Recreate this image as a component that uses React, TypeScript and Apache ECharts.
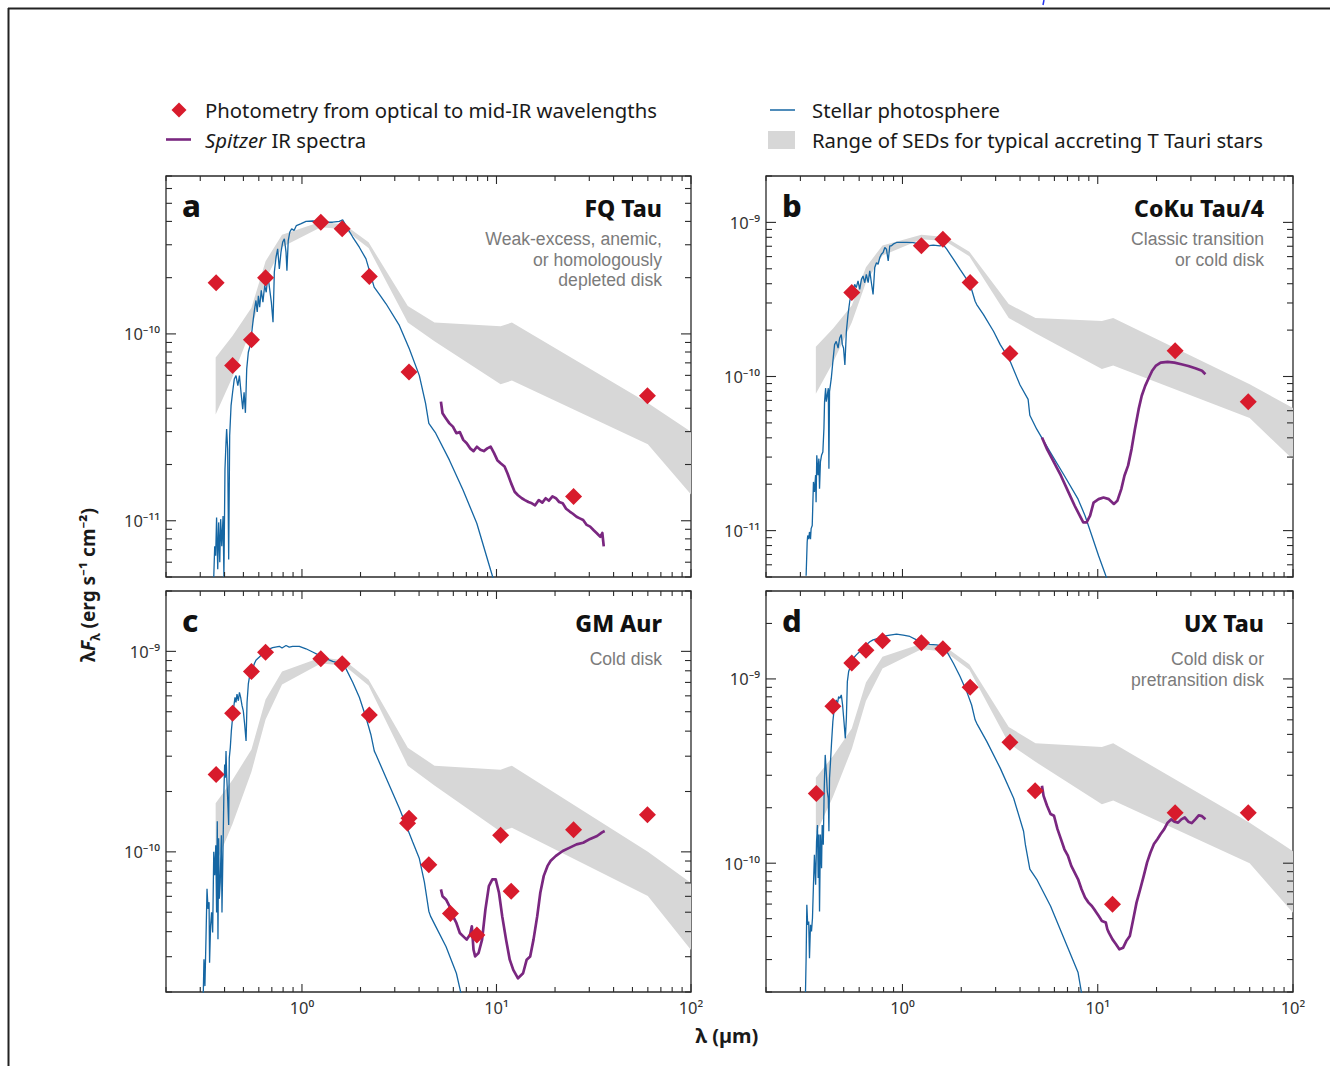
import React, { useEffect, useRef } from "react";
import * as echarts from "echarts";

// ---------------- DATA ----------------
const X_MIN = 0.2;
const X_MAX = 100;

// Range of SEDs for typical accreting T Tauri stars (band vertices, µm)
const BAND_X = [0.36, 0.44, 0.55, 0.65, 0.79, 1.25, 1.65, 2.2, 3.5, 4.8, 10.5, 12, 60, 100];
const BAND_UP_A = [7.47e-11, 9.77e-11, 1.38e-10, 2.45e-10, 3.39e-10, 3.98e-10, 3.85e-10, 3.09e-10, 1.41e-10, 1.15e-10, 1.1e-10, 1.15e-10, 4.27e-11, 2.99e-11];
const BAND_LO_A = [3.7e-11, 5.89e-11, 1.07e-10, 1.95e-10, 2.92e-10, 3.72e-10, 3.63e-10, 2.88e-10, 1.15e-10, 9.13e-11, 5.38e-11, 5.63e-11, 2.57e-11, 1.38e-11];
const BAND_UP_B = [1.56e-10, 2.04e-10, 2.89e-10, 5.12e-10, 7.08e-10, 8.32e-10, 8.04e-10, 6.45e-10, 2.95e-10, 2.4e-10, 2.29e-10, 2.4e-10, 8.91e-11, 6.24e-11];
const BAND_LO_B = [7.73e-11, 1.23e-10, 2.24e-10, 4.07e-10, 6.1e-10, 7.76e-10, 7.58e-10, 6.03e-10, 2.4e-10, 1.91e-10, 1.12e-10, 1.18e-10, 5.37e-11, 2.89e-11];
const BAND_UP_C = [1.75e-10, 2.29e-10, 3.24e-10, 5.75e-10, 7.94e-10, 9.33e-10, 9.02e-10, 7.24e-10, 3.31e-10, 2.69e-10, 2.57e-10, 2.69e-10, 1.0e-10, 7.0e-11];
const BAND_LO_C = [8.67e-11, 1.38e-10, 2.51e-10, 4.57e-10, 6.84e-10, 8.71e-10, 8.51e-10, 6.76e-10, 2.69e-10, 2.14e-10, 1.26e-10, 1.32e-10, 6.03e-11, 3.24e-11];
const BAND_UP_D = [2.91e-10, 3.8e-10, 5.38e-10, 9.55e-10, 1.32e-9, 1.55e-9, 1.5e-9, 1.2e-9, 5.49e-10, 4.47e-10, 4.27e-10, 4.47e-10, 1.66e-10, 1.16e-10];
const BAND_LO_D = [1.44e-10, 2.29e-10, 4.17e-10, 7.59e-10, 1.14e-9, 1.45e-9, 1.41e-9, 1.12e-9, 4.47e-10, 3.55e-10, 2.09e-10, 2.19e-10, 1.0e-10, 5.38e-11];

// Photometry (red diamonds) [µm, λFλ]
const DOTS_A = [[0.362, 1.88e-10], [0.44, 6.77e-11], [0.55, 9.3e-11], [0.65, 2.0e-10], [1.25, 3.96e-10], [1.61, 3.65e-10], [2.22, 2.03e-10], [3.55, 6.25e-11], [24.9, 1.35e-11], [59.7, 4.66e-11]];
const DOTS_B = [[0.55, 3.51e-10], [1.25, 7.05e-10], [1.61, 7.78e-10], [2.22, 4.07e-10], [3.55, 1.41e-10], [24.9, 1.47e-10], [59, 6.85e-11]];
const DOTS_C = [[0.362, 2.43e-10], [0.44, 4.91e-10], [0.55, 7.94e-10], [0.65, 9.89e-10], [1.25, 9.19e-10], [1.61, 8.67e-10], [2.22, 4.81e-10], [3.55, 1.47e-10], [3.49, 1.39e-10], [4.49, 8.63e-11], [5.8, 4.92e-11], [7.93, 3.85e-11], [10.5, 1.21e-10], [11.9, 6.37e-11], [24.9, 1.29e-10], [59.7, 1.53e-10]];
const DOTS_D = [[0.362, 2.39e-10], [0.44, 7.1e-10], [0.55, 1.22e-9], [0.65, 1.43e-9], [0.79, 1.61e-9], [1.25, 1.57e-9], [1.61, 1.46e-9], [2.22, 9.01e-10], [3.55, 4.53e-10], [4.78, 2.47e-10], [11.9, 5.98e-11], [24.9, 1.88e-10], [59, 1.88e-10]];

// Stellar photosphere (blue)
const BLUE_A = [[0.352, 5.0e-12], [0.356, 7.3e-12], [0.36, 6.5e-12], [0.364, 1.04e-11], [0.369, 5.5e-12], [0.373, 9.8e-12], [0.378, 6.0e-12], [0.382, 1.02e-11], [0.387, 7.3e-12], [0.393, 1.06e-11], [0.397, 5.0e-12], [0.402, 1.89e-11], [0.407, 2.63e-11], [0.41, 3.1e-11], [0.415, 2.42e-11], [0.42, 6.2e-12], [0.425, 2.85e-11], [0.432, 4.13e-11], [0.44, 4.87e-11], [0.449, 5.74e-11], [0.458, 5.98e-11], [0.468, 5.28e-11], [0.477, 5.98e-11], [0.486, 4.87e-11], [0.496, 3.96e-11], [0.504, 4.87e-11], [0.512, 3.78e-11], [0.52, 6.5e-11], [0.53, 7.98e-11], [0.541, 8.66e-11], [0.552, 1.02e-10], [0.562, 1.2e-10], [0.571, 1.36e-10], [0.58, 1.51e-10], [0.589, 1.31e-10], [0.597, 1.6e-10], [0.606, 1.39e-10], [0.618, 1.71e-10], [0.63, 1.48e-10], [0.643, 1.82e-10], [0.655, 1.67e-10], [0.668, 2.05e-10], [0.682, 1.74e-10], [0.696, 1.48e-10], [0.71, 1.155e-10], [0.721, 2.14e-10], [0.736, 2.58e-10], [0.75, 2.85e-10], [0.765, 2.23e-10], [0.78, 2.74e-10], [0.796, 3.1e-10], [0.812, 3.23e-10], [0.828, 2.74e-10], [0.837, 2.18e-10], [0.85, 3.16e-10], [0.866, 3.51e-10], [0.885, 3.65e-10], [0.911, 3.58e-10], [0.936, 3.8e-10], [0.984, 3.88e-10], [1.049, 4.0e-10], [1.135, 4.02e-10], [1.228, 4.0e-10], [1.329, 3.96e-10], [1.438, 3.96e-10], [1.556, 4.0e-10], [1.619, 4.08e-10], [1.72, 3.65e-10], [1.823, 3.3e-10], [1.972, 2.91e-10], [2.134, 2.52e-10], [2.26, 2.05e-10], [2.35, 1.78e-10], [2.49, 1.64e-10], [2.705, 1.45e-10], [3.167, 1.11e-10], [3.563, 8.32e-11], [4.013, 5.98e-11], [4.32, 4.25e-11], [4.49, 3.32e-11], [4.87, 2.94e-11], [5.73, 2.11e-11], [6.73, 1.46e-11], [7.92, 9.7e-12], [9.33, 5.45e-12], [9.8, 4.6e-12]];
const BLUE_B = [[0.321, 5.1e-12], [0.325, 8.4e-12], [0.327, 9.3e-12], [0.331, 8.8e-12], [0.334, 9.8e-12], [0.338, 8.8e-12], [0.3405, 1.03e-11], [0.345, 1.08e-11], [0.35, 2.07e-11], [0.354, 1.78e-11], [0.359, 2.29e-11], [0.361, 1.53e-11], [0.364, 3.08e-11], [0.369, 2.29e-11], [0.373, 2.93e-11], [0.376, 1.87e-11], [0.38, 2.79e-11], [0.385, 3.08e-11], [0.391, 3.24e-11], [0.396, 4.6e-11], [0.399, 6.87e-11], [0.404, 8.4e-11], [0.407, 6.87e-11], [0.412, 7.59e-11], [0.417, 8.4e-11], [0.42, 2.52e-11], [0.423, 7.98e-11], [0.432, 9.75e-11], [0.44, 1.25e-10], [0.449, 1.61e-10], [0.458, 1.69e-10], [0.468, 1.53e-10], [0.477, 1.78e-10], [0.486, 1.87e-10], [0.492, 1.61e-10], [0.499, 1.53e-10], [0.507, 1.19e-10], [0.516, 1.96e-10], [0.526, 2.52e-10], [0.537, 3.08e-10], [0.547, 3.41e-10], [0.558, 3.58e-10], [0.569, 3.96e-10], [0.58, 3.77e-10], [0.592, 4.17e-10], [0.604, 3.67e-10], [0.616, 4.27e-10], [0.628, 4.49e-10], [0.641, 4.06e-10], [0.653, 4.6e-10], [0.667, 4.06e-10], [0.68, 4.84e-10], [0.693, 4.06e-10], [0.707, 3.41e-10], [0.721, 5.09e-10], [0.736, 5.48e-10], [0.75, 5.35e-10], [0.765, 5.91e-10], [0.78, 6.21e-10], [0.796, 6.37e-10], [0.812, 6.87e-10], [0.828, 6.7e-10], [0.845, 5.62e-10], [0.861, 7.05e-10], [0.878, 7.05e-10], [0.896, 7.22e-10], [0.932, 7.41e-10], [0.969, 7.41e-10], [1.049, 7.41e-10], [1.135, 7.38e-10], [1.228, 7.22e-10], [1.329, 7.05e-10], [1.438, 7.11e-10], [1.556, 7.05e-10], [1.619, 7.14e-10], [1.685, 6.7e-10], [1.823, 5.77e-10], [1.972, 4.96e-10], [2.134, 4.27e-10], [2.26, 3.67e-10], [2.355, 3.08e-10], [2.4, 2.93e-10], [2.6, 2.52e-10], [2.93, 1.96e-10], [3.167, 1.61e-10], [3.52, 1.3e-10], [4.0, 8.8e-11], [4.4, 7.1e-11], [4.49, 5.6e-11], [4.87, 4.55e-11], [5.73, 3.21e-11], [6.75, 2.27e-11], [7.93, 1.6e-11], [8.61, 1.25e-11], [9.33, 9.25e-12], [10.1, 6.87e-12], [11.0, 5.09e-12], [11.3, 4.7e-12]];
const BLUE_C = [[0.311, 1.98e-11], [0.3135, 2.91e-11], [0.317, 2.14e-11], [0.321, 3.67e-11], [0.325, 6.55e-11], [0.329, 5.19e-11], [0.333, 5.61e-11], [0.335, 2.8e-11], [0.339, 4.28e-11], [0.343, 4.99e-11], [0.3475, 3.96e-11], [0.352, 1.0e-10], [0.356, 7.64e-11], [0.3605, 1.08e-10], [0.364, 4.99e-11], [0.367, 1.42e-10], [0.37, 3.67e-11], [0.373, 1.17e-10], [0.376, 5.83e-11], [0.38, 7.06e-11], [0.385, 1.21e-10], [0.388, 4.99e-11], [0.393, 1.08e-10], [0.397, 2.0e-10], [0.4005, 2.73e-10], [0.4036, 2.34e-10], [0.407, 3.18e-10], [0.41, 2.43e-10], [0.415, 1.85e-10], [0.42, 1.36e-10], [0.423, 2.94e-10], [0.428, 3.3e-10], [0.4335, 4.01e-10], [0.44, 4.68e-10], [0.4455, 5.25e-10], [0.4527, 5.9e-10], [0.458, 5.56e-10], [0.4634, 6.12e-10], [0.471, 5.67e-10], [0.477, 6.25e-10], [0.484, 5.9e-10], [0.492, 5.36e-10], [0.4994, 5.05e-10], [0.5074, 4.33e-10], [0.516, 3.57e-10], [0.522, 5.56e-10], [0.53, 6.88e-10], [0.537, 7.43e-10], [0.547, 7.87e-10], [0.558, 8.18e-10], [0.569, 8.67e-10], [0.58, 9.02e-10], [0.604, 9.37e-10], [0.628, 9.73e-10], [0.653, 1.012e-9], [0.707, 1.043e-9], [0.765, 1.06e-9], [0.79, 1.04e-9], [0.828, 1.07e-9], [0.86, 1.05e-9], [0.896, 1.06e-9], [0.969, 1.06e-9], [1.049, 1.03e-9], [1.135, 9.93e-10], [1.228, 9.55e-10], [1.329, 9.19e-10], [1.438, 8.91e-10], [1.556, 8.74e-10], [1.619, 8.91e-10], [1.685, 8.18e-10], [1.823, 7.02e-10], [1.972, 5.9e-10], [2.134, 4.68e-10], [2.26, 3.85e-10], [2.355, 3.18e-10], [2.4, 3.06e-10], [2.705, 2.34e-10], [3.167, 1.65e-10], [3.71, 1.12e-10], [4.013, 9.26e-11], [4.26, 7.06e-11], [4.49, 5.06e-11], [4.58, 4.78e-11], [4.87, 4.25e-11], [5.5, 3.37e-11], [6.22, 2.48e-11], [6.6, 1.93e-11]];
const BLUE_D = [[0.3186, 2.0e-11], [0.321, 3.05e-11], [0.3237, 5.94e-11], [0.327, 4.63e-11], [0.331, 4.83e-11], [0.334, 3.05e-11], [0.338, 4.63e-11], [0.342, 4.26e-11], [0.346, 5.04e-11], [0.35, 7.63e-11], [0.354, 1.11e-10], [0.359, 7.63e-11], [0.363, 1.31e-10], [0.367, 1.61e-10], [0.37, 8.3e-11], [0.373, 1.43e-10], [0.376, 5.47e-11], [0.38, 1.43e-10], [0.385, 9.4e-11], [0.388, 1.61e-10], [0.393, 1.26e-10], [0.397, 2.45e-10], [0.402, 3.87e-10], [0.407, 3.14e-10], [0.412, 2.45e-10], [0.417, 2.25e-10], [0.42, 1.49e-10], [0.423, 2.89e-10], [0.428, 3.56e-10], [0.4335, 4.57e-10], [0.44, 5.87e-10], [0.4455, 6.65e-10], [0.4527, 6.93e-10], [0.458, 7.69e-10], [0.4634, 7.22e-10], [0.471, 8.02e-10], [0.478, 7.85e-10], [0.486, 8.19e-10], [0.4935, 7.22e-10], [0.5016, 5.87e-10], [0.5096, 4.76e-10], [0.516, 6.12e-10], [0.522, 9.67e-10], [0.53, 1.096e-9], [0.537, 1.14e-9], [0.547, 1.216e-9], [0.558, 1.268e-9], [0.569, 1.32e-9], [0.58, 1.35e-9], [0.604, 1.41e-9], [0.628, 1.47e-9], [0.653, 1.53e-9], [0.68, 1.59e-9], [0.707, 1.63e-9], [0.75, 1.66e-9], [0.796, 1.7e-9], [0.861, 1.73e-9], [0.932, 1.75e-9], [1.009, 1.73e-9], [1.091, 1.7e-9], [1.18, 1.63e-9], [1.278, 1.59e-9], [1.382, 1.54e-9], [1.496, 1.53e-9], [1.619, 1.5e-9], [1.685, 1.41e-9], [1.823, 1.216e-9], [1.972, 1.03e-9], [2.134, 8.53e-10], [2.26, 7.22e-10], [2.355, 6.0e-10], [2.4, 5.74e-10], [2.705, 4.57e-10], [3.167, 3.28e-10], [3.71, 2.25e-10], [4.17, 1.49e-10], [4.26, 1.26e-10], [4.49, 9.28e-11], [4.87, 8.18e-11], [5.73, 5.86e-11], [6.75, 3.86e-11], [7.93, 2.55e-11], [8.26, 1.98e-11]];

// Spitzer IR spectra (purple)
const PURPLE_A = [[5.18, 4.34e-11], [5.28, 3.76e-11], [5.5, 3.53e-11], [5.73, 3.32e-11], [5.97, 3.19e-11], [6.22, 2.94e-11], [6.48, 2.98e-11], [6.75, 2.71e-11], [7.03, 2.6e-11], [7.32, 2.44e-11], [7.62, 2.36e-11], [7.93, 2.49e-11], [8.27, 2.4e-11], [8.61, 2.36e-11], [8.97, 2.44e-11], [9.33, 2.49e-11], [9.72, 2.3e-11], [10.1, 2.11e-11], [10.5, 2.03e-11], [11.0, 1.95e-11], [11.4, 1.79e-11], [11.9, 1.585e-11], [12.4, 1.43e-11], [12.9, 1.37e-11], [13.5, 1.32e-11], [14.0, 1.29e-11], [14.6, 1.26e-11], [15.2, 1.24e-11], [15.8, 1.21e-11], [16.5, 1.29e-11], [17.2, 1.25e-11], [17.9, 1.32e-11], [18.6, 1.28e-11], [19.4, 1.35e-11], [20.2, 1.32e-11], [21.0, 1.26e-11], [21.9, 1.24e-11], [22.8, 1.16e-11], [23.8, 1.12e-11], [24.7, 1.09e-11], [25.8, 1.05e-11], [26.8, 1.03e-11], [27.9, 1.01e-11], [29.1, 9.5e-12], [30.3, 9.3e-12], [31.6, 8.9e-12], [32.9, 8.55e-12], [34.2, 8.2e-12], [35.0, 8.6e-12], [35.6, 7.3e-12]];
const PURPLE_B = [[5.18, 4.02e-11], [5.5, 3.38e-11], [5.97, 2.77e-11], [6.48, 2.27e-11], [7.03, 1.81e-11], [7.62, 1.45e-11], [8.09, 1.25e-11], [8.43, 1.13e-11], [8.77, 1.13e-11], [9.14, 1.25e-11], [9.52, 1.52e-11], [10.1, 1.6e-11], [10.7, 1.64e-11], [11.4, 1.6e-11], [12.1, 1.49e-11], [12.6, 1.56e-11], [13.2, 1.86e-11], [13.7, 2.27e-11], [14.3, 2.64e-11], [14.9, 3.38e-11], [15.5, 4.55e-11], [16.2, 6.14e-11], [16.8, 7.5e-11], [17.5, 8.7e-11], [18.3, 9.86e-11], [19.0, 1.09e-10], [19.8, 1.17e-10], [21.0, 1.23e-10], [22.8, 1.245e-10], [24.7, 1.23e-10], [26.8, 1.2e-10], [29.1, 1.17e-10], [31.6, 1.13e-10], [34.2, 1.09e-10], [35.6, 1.035e-10]];
const PURPLE_C = [[5.18, 6.5e-11], [5.28, 6.01e-11], [5.5, 5.79e-11], [5.73, 5.36e-11], [5.97, 4.78e-11], [6.22, 4.42e-11], [6.48, 3.94e-11], [6.75, 3.79e-11], [7.03, 3.65e-11], [7.32, 3.87e-11], [7.47, 4.25e-11], [7.62, 3.25e-11], [7.77, 3.01e-11], [8.09, 3.13e-11], [8.43, 3.65e-11], [8.77, 5.15e-11], [9.14, 6.75e-11], [9.52, 7.29e-11], [9.91, 7.29e-11], [10.3, 6.25e-11], [10.7, 4.78e-11], [11.2, 3.65e-11], [11.7, 2.9e-11], [12.2, 2.58e-11], [12.9, 2.34e-11], [13.7, 2.48e-11], [14.3, 2.9e-11], [14.9, 3.01e-11], [15.5, 3.65e-11], [16.2, 4.78e-11], [16.8, 6.25e-11], [17.5, 7.59e-11], [18.3, 8.51e-11], [19.0, 9.02e-11], [20.2, 9.55e-11], [21.9, 1.01e-10], [23.8, 1.05e-10], [25.8, 1.09e-10], [27.9, 1.11e-10], [30.3, 1.16e-10], [32.9, 1.2e-10], [34.9, 1.25e-10], [36.0, 1.27e-10]];
const PURPLE_D = [[5.18, 2.63e-10], [5.28, 2.32e-10], [5.5, 2.05e-10], [5.73, 1.85e-10], [5.97, 1.81e-10], [6.22, 1.53e-10], [6.48, 1.35e-10], [6.75, 1.19e-10], [7.03, 1.1e-10], [7.32, 9.67e-11], [7.62, 8.9e-11], [7.93, 8.18e-11], [8.26, 7.22e-11], [8.61, 6.51e-11], [8.97, 6.11e-11], [9.33, 5.86e-11], [9.72, 5.51e-11], [10.1, 5.18e-11], [10.5, 4.86e-11], [11.0, 4.76e-11], [11.2, 4.38e-11], [11.4, 4.2e-11], [11.9, 3.86e-11], [12.4, 3.63e-11], [12.9, 3.41e-11], [13.5, 3.48e-11], [14.0, 3.78e-11], [14.6, 4.03e-11], [15.2, 4.96e-11], [15.8, 6.11e-11], [16.5, 7.22e-11], [17.2, 8.53e-11], [17.9, 1.01e-10], [18.6, 1.14e-10], [19.4, 1.27e-10], [20.2, 1.35e-10], [21.0, 1.44e-10], [21.9, 1.53e-10], [22.8, 1.66e-10], [23.8, 1.73e-10], [24.7, 1.68e-10], [25.8, 1.66e-10], [26.8, 1.73e-10], [27.9, 1.77e-10], [29.1, 1.68e-10], [30.3, 1.65e-10], [31.6, 1.73e-10], [32.9, 1.82e-10], [34.2, 1.8e-10], [35.6, 1.73e-10]];

// y-axis ranges
const Y_RANGES = [[5e-12, 7e-10], [5e-12, 2e-9], [2e-11, 2e-9], [2e-11, 3e-9]];

const PANEL_LETTERS = ["a", "b", "c", "d"];
const PANEL_TITLES = ["FQ Tau", "CoKu Tau/4", "GM Aur", "UX Tau"];
const PANEL_SUBTITLES = [
  ["Weak-excess, anemic,", "or homologously", "depleted disk"],
  ["Classic transition", "or cold disk"],
  ["Cold disk"],
  ["Cold disk or", "pretransition disk"],
];
const MINOR_MULTS = [1, 2, 3, 4, 5, 6, 7, 8, 9];

// ---------------- STYLE / LAYOUT ----------------
const FONT = "'Noto Sans', 'Open Sans', sans-serif";
const SUB_FONT = "'Liberation Sans', Arial, sans-serif";
const C_BLUE = "#1566a3";
const C_PURPLE = "#7a2780";
const C_RED = "#d81b2c";
const C_BAND = "#d7d7d7";
const C_AXIS = "#2a2a2a";

const LAYOUT = [
  { left: 166, top: 176, width: 525, height: 401 },
  { left: 766, top: 176, width: 527, height: 401 },
  { left: 166, top: 591, width: 525, height: 401 },
  { left: 766, top: 591, width: 527, height: 401 },
];

const SUP: Record<string, string> = { "-": "⁻", "0": "⁰", "1": "¹", "2": "²", "3": "³", "4": "⁴", "5": "⁵", "6": "⁶", "7": "⁷", "8": "⁸", "9": "⁹" };
function powLabel(v: number) {
  const l = Math.log10(v);
  const e = Math.round(l);
  if (Math.abs(l - e) > 1e-6) return "";
  return "10" + String(e).split("").map((c) => SUP[c]).join("");
}
function logTicks(min: number, max: number) {
  const out: { v: number; major: boolean }[] = [];
  for (let e = Math.floor(Math.log10(min)); e <= Math.ceil(Math.log10(max)); e++) {
    for (const m of MINOR_MULTS) {
      const v = m * Math.pow(10, e);
      if (v >= min * 0.99999 && v <= max * 1.00001) out.push({ v, major: m === 1 });
    }
  }
  return out;
}

const BANDS = [
  [BAND_UP_A, BAND_LO_A],
  [BAND_UP_B, BAND_LO_B],
  [BAND_UP_C, BAND_LO_C],
  [BAND_UP_D, BAND_LO_D],
];
const DOTS = [DOTS_A, DOTS_B, DOTS_C, DOTS_D];
const BLUES = [BLUE_A, BLUE_B, BLUE_C, BLUE_D];
const PURPLES = [PURPLE_A, PURPLE_B, PURPLE_C, PURPLE_D];

function buildOption() {
  const grid: any[] = [];
  const xAxis: any[] = [];
  const yAxis: any[] = [];
  const series: any[] = [];
  const graphic: any[] = [];

  for (let i = 0; i < 4; i++) {
    const L = LAYOUT[i];
    const [yMin, yMax] = Y_RANGES[i];
    grid.push({ ...L, show: true, borderColor: C_AXIS, borderWidth: 1.3, backgroundColor: "rgba(0,0,0,0)" });
    xAxis.push({
      type: "log", logBase: 10, gridIndex: i, min: X_MIN, max: X_MAX,
      axisLine: { show: false }, axisTick: { show: false }, splitLine: { show: false },
      axisLabel: { show: i >= 2, formatter: (v: number) => powLabel(v), fontFamily: FONT, fontSize: 16.5, color: "#333", margin: 7, showMinLabel: false },
    });
    yAxis.push({
      type: "log", logBase: 10, gridIndex: i, min: yMin, max: yMax,
      axisLine: { show: false }, axisTick: { show: false }, splitLine: { show: false },
      axisLabel: { formatter: (v: number) => powLabel(v), fontFamily: FONT, fontSize: 16.5, color: "#333", margin: 6 },
    });

    const [up, lo] = BANDS[i];
    series.push({
      type: "custom", name: "Range of SEDs for typical accreting T Tauri stars", xAxisIndex: i, yAxisIndex: i, z: 1, silent: true,
      data: [[1, yMax]],
      renderItem: (_p: any, api: any) => {
        const top = BAND_X.map((x, k) => api.coord([x, up[k]]));
        const bot = BAND_X.map((x, k) => api.coord([x, lo[k]])).reverse();
        return { type: "polygon", shape: { points: top.concat(bot) }, style: { fill: C_BAND } };
      },
    });
    series.push({
      type: "line", name: "Stellar photosphere", xAxisIndex: i, yAxisIndex: i, z: 2, data: BLUES[i],
      showSymbol: false, symbol: "none", lineStyle: { color: C_BLUE, width: 1.3 }, clip: true, silent: true,
    });
    series.push({
      type: "line", name: "Spitzer IR spectra", xAxisIndex: i, yAxisIndex: i, z: 3, data: PURPLES[i],
      showSymbol: false, symbol: "none", lineStyle: { color: C_PURPLE, width: 2.7, join: "round" }, clip: true, silent: true,
    });
    series.push({
      type: "scatter", name: "Photometry from optical to mid-IR wavelengths", xAxisIndex: i, yAxisIndex: i, z: 4,
      data: DOTS[i], symbol: "diamond", symbolSize: [17, 17], itemStyle: { color: C_RED, opacity: 1 }, silent: true,
    });
    const xt = logTicks(X_MIN, X_MAX);
    const yt = logTicks(yMin, yMax);
    series.push({
      type: "custom", name: "ticks", xAxisIndex: i, yAxisIndex: i, z: 5, silent: true,
      data: [[1, yMax]],
      renderItem: (_p: any, api: any) => {
        const ch: any[] = [];
        const st = { stroke: C_AXIS, lineWidth: 1.1 };
        for (const t of xt) {
          const len = t.major ? 8 : 5;
          const b = api.coord([t.v, yMin]);
          const tp = api.coord([t.v, yMax]);
          ch.push({ type: "line", shape: { x1: b[0], y1: b[1], x2: b[0], y2: b[1] - len }, style: st });
          ch.push({ type: "line", shape: { x1: tp[0], y1: tp[1], x2: tp[0], y2: tp[1] + len }, style: st });
        }
        for (const t of yt) {
          const len = t.major ? 10 : 6;
          const l = api.coord([X_MIN, t.v]);
          const r = api.coord([X_MAX, t.v]);
          ch.push({ type: "line", shape: { x1: l[0], y1: l[1], x2: l[0] + len, y2: l[1] }, style: st });
          ch.push({ type: "line", shape: { x1: r[0], y1: r[1], x2: r[0] - len, y2: r[1] }, style: st });
        }
        return { type: "group", children: ch };
      },
    });

    // panel texts
    const right = L.left + L.width - 29;
    graphic.push({
      type: "text", x: L.left + 16, y: L.top + 44, z: 10,
      style: { text: PANEL_LETTERS[i], fontFamily: FONT, fontSize: 31, fontWeight: 800, fill: "#111", align: "left", verticalAlign: "bottom", textAlign: "left", textVerticalAlign: "bottom" },
    });
    graphic.push({
      type: "text", x: right, y: L.top + 32, z: 10,
      style: { text: PANEL_TITLES[i], fontFamily: FONT, fontSize: 23, fontWeight: 800, fill: "#111", align: "right", verticalAlign: "middle", textAlign: "right", textVerticalAlign: "middle" },
    });
    PANEL_SUBTITLES[i].forEach((s, k) => {
      graphic.push({
        type: "text", x: right, y: L.top + (i >= 2 ? 68 : 63) + k * 20.6, z: 10,
        style: { text: s, fontFamily: SUB_FONT, fontSize: 17.6, fill: "#7b7b7b", align: "right", verticalAlign: "middle", textAlign: "right", textVerticalAlign: "middle" },
      });
    });
  }

  // legend
  const LEG_FS = 20.3;
  graphic.push({ type: "polygon", shape: { points: [[179, 102.5], [186.5, 110], [179, 117.5], [171.5, 110]] }, style: { fill: C_RED } });
  graphic.push({ type: "text", x: 205, y: 110, style: { text: "Photometry from optical to mid-IR wavelengths", fontFamily: FONT, fontSize: LEG_FS, fill: "#1a1a1a", align: "left", verticalAlign: "middle", textAlign: "left", textVerticalAlign: "middle" } });
  graphic.push({ type: "line", shape: { x1: 166, y1: 139.5, x2: 191, y2: 139.5 }, style: { stroke: C_PURPLE, lineWidth: 2.6 } });
  graphic.push({
    type: "text", x: 205, y: 140,
    style: {
      text: "{i|Spitzer} {n|IR spectra}", fontFamily: FONT, fontSize: LEG_FS, fill: "#1a1a1a", align: "left", verticalAlign: "middle", textAlign: "left", textVerticalAlign: "middle",
      rich: { i: { fontStyle: "italic", fontFamily: FONT, fontSize: LEG_FS, fill: "#1a1a1a" }, n: { fontFamily: FONT, fontSize: LEG_FS, fill: "#1a1a1a" } },
    },
  });
  graphic.push({ type: "line", shape: { x1: 770, y1: 110, x2: 795, y2: 110 }, style: { stroke: C_BLUE, lineWidth: 1.5 } });
  graphic.push({ type: "text", x: 812, y: 110, style: { text: "Stellar photosphere", fontFamily: FONT, fontSize: LEG_FS, fill: "#1a1a1a", align: "left", verticalAlign: "middle", textAlign: "left", textVerticalAlign: "middle" } });
  graphic.push({ type: "rect", shape: { x: 768, y: 131, width: 27, height: 18 }, style: { fill: C_BAND } });
  graphic.push({ type: "text", x: 812, y: 140, style: { text: "Range of SEDs for typical accreting T Tauri stars", fontFamily: FONT, fontSize: LEG_FS, fill: "#1a1a1a", align: "left", verticalAlign: "middle", textAlign: "left", textVerticalAlign: "middle" } });

  // axis titles
  graphic.push({ type: "text", x: 727, y: 1035, style: { text: "λ (µm)", fontFamily: FONT, fontSize: 20, fontWeight: 700, fill: "#1a1a1a", align: "center", verticalAlign: "middle", textAlign: "center", textVerticalAlign: "middle" } });
  graphic.push({
    type: "text", x: 88, y: 585, rotation: Math.PI / 2,
    style: {
      text: "{l|λ}{f|F}{s|λ}{l| (erg s⁻¹ cm⁻²)}", align: "center", verticalAlign: "middle", textAlign: "center", textVerticalAlign: "middle",
      rich: {
        l: { fontFamily: FONT, fontSize: 19, fontWeight: 700, fill: "#1a1a1a", lineHeight: 26, verticalAlign: "middle" },
        f: { fontFamily: FONT, fontSize: 19, fontWeight: 700, fontStyle: "italic", fill: "#1a1a1a", lineHeight: 26, verticalAlign: "middle" },
        s: { fontFamily: FONT, fontSize: 13, fontWeight: 700, fill: "#1a1a1a", lineHeight: 26, verticalAlign: "bottom" },
      },
    },
  });

  // page frame
  graphic.push({ type: "line", shape: { x1: 8, y1: 8.5, x2: 1330, y2: 8.5 }, style: { stroke: "#222", lineWidth: 2 } });
  graphic.push({ type: "line", shape: { x1: 8.5, y1: 8, x2: 8.5, y2: 1066 }, style: { stroke: "#222", lineWidth: 2 } });
  graphic.push({ type: "line", shape: { x1: 1044, y1: 0, x2: 1043, y2: 5 }, style: { stroke: "#2233ee", lineWidth: 1.5 } });

  return { animation: false, backgroundColor: "#ffffff", grid, xAxis, yAxis, series, graphic };
}

export default function App() {
  const ref = useRef<HTMLDivElement>(null);
  useEffect(() => {
    if (!ref.current) return;
    const chart = echarts.init(ref.current, undefined, { renderer: "svg" });
    chart.setOption(buildOption() as any);
    return () => chart.dispose();
  }, []);
  return <div ref={ref} style={{ position: "fixed", left: 0, top: 0, width: 1330, height: 1066, background: "#fff" }} />;
}
